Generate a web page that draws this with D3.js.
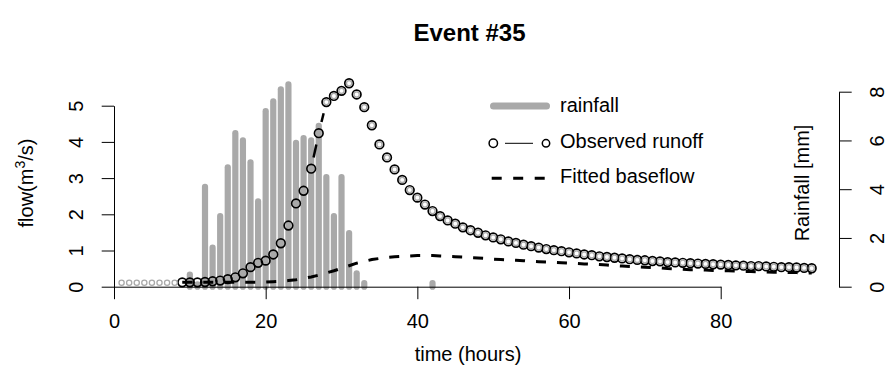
<!DOCTYPE html>
<html>
<head>
<meta charset="utf-8">
<script src="https://cdn.jsdelivr.net/npm/d3@7"></script>
<style>
body { margin: 0; background: white; }
svg { display: block; font-family: "Liberation Sans", Arial, Helvetica, sans-serif; }
</style>
</head>
<body>
<main></main>
<script>
// hourly rainfall (mm), right axis
const rainHours = [10, 11, 12, 13, 14, 15, 16, 17, 18, 19, 20, 21, 22, 23, 24, 25, 26, 27, 28, 29, 30, 31, 32, 33, 42]
const rainMm = [0.5, 0.1, 4.1, 1.6, 2.9, 4.9, 6.3, 6.0, 5.1, 3.5, 7.2, 7.6, 8.1, 8.3, 5.9, 6.1, 6.0, 6.6, 4.5, 2.9, 4.5, 2.2, 0.55, 0.15, 0.15]

// flow before the event starts (small grey circles)
const preHours = [1, 2, 3, 4, 5, 6, 7, 8]
const preFlow = [0.11, 0.11, 0.11, 0.11, 0.11, 0.11, 0.11, 0.11]

// observed runoff during the event, hours 9..92
const obsHours = [9, 10, 11, 12, 13, 14, 15, 16, 17, 18, 19, 20, 21, 22, 23, 24, 25, 26, 27, 28,
    29, 30, 31, 32, 33, 34, 35, 36, 37, 38, 39, 40, 41, 42, 43, 44, 45, 46, 47, 48,
    49, 50, 51, 52, 53, 54, 55, 56, 57, 58, 59, 60, 61, 62, 63, 64, 65, 66, 67, 68,
    69, 70, 71, 72, 73, 74, 75, 76, 77, 78, 79, 80, 81, 82, 83, 84, 85, 86, 87, 88,
    89, 90, 91, 92]
const obsFlow = [0.12, 0.12, 0.12, 0.13, 0.15, 0.17, 0.21, 0.26, 0.37, 0.54, 0.66, 0.72, 0.89, 1.20, 1.69, 2.30, 2.65, 3.26, 4.24, 5.10,
    5.27, 5.41, 5.62, 5.31, 4.96, 4.46, 3.93, 3.57, 3.24, 2.95, 2.67, 2.46, 2.27, 2.09, 1.95, 1.83, 1.74, 1.64, 1.56, 1.49,
    1.42, 1.36, 1.31, 1.25, 1.21, 1.16, 1.12, 1.08, 1.04, 1.01, 0.98, 0.95, 0.92, 0.89, 0.87, 0.84, 0.82, 0.80, 0.78, 0.76,
    0.74, 0.73, 0.71, 0.70, 0.68, 0.67, 0.66, 0.65, 0.64, 0.63, 0.62, 0.61, 0.60, 0.59, 0.58, 0.57, 0.57, 0.56, 0.55, 0.54,
    0.54, 0.53, 0.52, 0.51]
const baseflow = [0.12, 0.12, 0.12, 0.12, 0.12, 0.12, 0.12, 0.12, 0.12, 0.12, 0.12, 0.13, 0.14, 0.15, 0.17, 0.19, 0.23, 0.27, 0.32, 0.38,
    0.44, 0.51, 0.58, 0.65, 0.70, 0.75, 0.78, 0.81, 0.83, 0.84, 0.85, 0.86, 0.86, 0.86, 0.85, 0.84, 0.83, 0.82, 0.80, 0.79,
    0.78, 0.76, 0.75, 0.74, 0.73, 0.72, 0.70, 0.69, 0.68, 0.67, 0.66, 0.65, 0.64, 0.63, 0.62, 0.61, 0.60, 0.58, 0.57, 0.56,
    0.55, 0.54, 0.53, 0.52, 0.50, 0.49, 0.48, 0.47, 0.47, 0.46, 0.45, 0.44, 0.44, 0.43, 0.42, 0.42, 0.41, 0.41, 0.40, 0.40,
    0.39, 0.39, 0.38, 0.38]
const recessionStart = 28

const xTicks = [0, 20, 40, 60, 80]
const flowTicks = [0, 1, 2, 3, 4, 5]
const rainTicks = [0, 2, 4, 6, 8]

const svgWidth = 893
const svgHeight = 371
const barGrey = "#a9a9a9"

let svg = d3.select("main")
    .append("svg")
    .attr("width", svgWidth)
    .attr("height", svgHeight)

//scales
let xScale = d3.scaleLinear().domain([0, 80]).range([114, 720.7])
let yScale = d3.scaleLinear().domain([0, 5]).range([286.7, 105.7])
let rScale = d3.scaleLinear().domain([0, 8]).range([286.7, 91.7])

//title
svg.append("text")
    .attr("x", 469.5)
    .attr("y", 41)
    .attr("text-anchor", "middle")
    .style("font-size", "24px")
    .style("font-weight", "bold")
    .text("Event #35")

//rainfall bars
let rain = rainHours.map((h, i) => ({ h: h, v: rainMm[i] }))
svg.append("g").selectAll("line")
    .data(rain)
    .enter()
    .append("line")
    .attr("x1", d => xScale(d.h))
    .attr("x2", d => xScale(d.h))
    .attr("y1", rScale(0))
    .attr("y2", d => rScale(d.v))
    .attr("stroke", barGrey)
    .attr("stroke-width", 6.2)
    .attr("stroke-linecap", "round")

//fitted baseflow
let base = obsHours.map((h, i) => ({ h: h, v: baseflow[i] }))
svg.append("path")
    .datum(base)
    .attr("fill", "none")
    .attr("stroke", "black")
    .attr("stroke-width", 3)
    .attr("stroke-dasharray", "10,11")
    .attr("d", d3.line().x(d => xScale(d.h)).y(d => yScale(d.v)))

//observed runoff, points joined with gaps (type "b")
let obs = obsHours.map((h, i) => ({ h: h, v: obsFlow[i] }))
let gap = 11.5
let links = []
for (let i = 1; i < obs.length; i++) {
    let x1 = xScale(obs[i - 1].h), y1 = yScale(obs[i - 1].v)
    let x2 = xScale(obs[i].h), y2 = yScale(obs[i].v)
    let len = Math.hypot(x2 - x1, y2 - y1)
    if (len - 2 * gap > 1) {
        let ux = (x2 - x1) / len, uy = (y2 - y1) / len
        links.push([x1 + ux * gap, y1 + uy * gap, x2 - ux * gap, y2 - uy * gap])
    }
}
svg.append("g").selectAll("line")
    .data(links)
    .enter()
    .append("line")
    .attr("x1", d => d[0]).attr("y1", d => d[1])
    .attr("x2", d => d[2]).attr("y2", d => d[3])
    .attr("stroke", "black")
    .attr("stroke-width", 2.5)

svg.append("g").selectAll("circle")
    .data(obs)
    .enter()
    .append("circle")
    .attr("cx", d => xScale(d.h))
    .attr("cy", d => yScale(d.v))
    .attr("r", 4.3)
    .attr("fill", "none")
    .attr("stroke", "black")
    .attr("stroke-width", 1.7)

//small grey points: before the event and on the recession
let grey = preHours.map((h, i) => ({ h: h, v: preFlow[i] }))
    .concat(obs.filter(d => d.h >= recessionStart))
svg.append("g").selectAll("circle")
    .data(grey)
    .enter()
    .append("circle")
    .attr("cx", d => xScale(d.h))
    .attr("cy", d => yScale(d.v))
    .attr("r", 2.6)
    .attr("fill", "none")
    .attr("stroke", barGrey)
    .attr("stroke-width", 1.3)

//x axis
let xAxis = svg.append("g")
    .attr("transform", `translate(0, ${yScale(0)})`)
    .call(d3.axisBottom(xScale).tickValues(xTicks).tickFormat(d3.format("d")).tickSize(12.5).tickSizeOuter(0))
xAxis.select("path").attr("stroke", "black")
xAxis.selectAll("text")
    .attr("y", 41.5)
    .attr("dy", null)
    .attr("fill", "black")
    .style("font-size", "20px")
    .style("font-family", "inherit")

svg.append("text")
    .attr("x", 468)
    .attr("y", 361)
    .attr("text-anchor", "middle")
    .style("font-size", "20px")
    .text("time (hours)")

//left axis
let yAxis = svg.append("g")
    .attr("transform", `translate(${xScale(0)}, 0)`)
    .call(d3.axisLeft(yScale).tickValues(flowTicks).tickFormat(d3.format("d")).tickSize(12.3).tickSizeOuter(0))
yAxis.selectAll("text")
    .attr("x", null)
    .attr("dy", null)
    .attr("text-anchor", "middle")
    .attr("transform", "translate(-31, 0) rotate(-90)")
    .attr("fill", "black")
    .style("font-size", "20px")
    .style("font-family", "inherit")

let yTitle = svg.append("text")
    .attr("transform", "translate(33, 183) rotate(-90)")
    .attr("text-anchor", "middle")
    .style("font-size", "20px")
yTitle.append("tspan").text("flow(m")
yTitle.append("tspan").attr("dy", -8).style("font-size", "14px").text("3")
yTitle.append("tspan").attr("dy", 8).text("/s)")

//right axis
let rAxis = svg.append("g")
    .attr("transform", "translate(839, 0)")
    .call(d3.axisRight(rScale).tickValues(rainTicks).tickFormat(d3.format("d")).tickSize(12.7).tickSizeOuter(0))
rAxis.selectAll("text")
    .attr("x", null)
    .attr("dy", null)
    .attr("text-anchor", "middle")
    .attr("transform", "translate(45, 0) rotate(-90)")
    .attr("fill", "black")
    .style("font-size", "20px")
    .style("font-family", "inherit")

svg.append("text")
    .attr("transform", "translate(809, 183) rotate(-90)")
    .attr("text-anchor", "middle")
    .style("font-size", "20px")
    .text("Rainfall [mm]")

//legend
let legend = svg.append("g")
legend.append("line")
    .attr("x1", 493.5).attr("x2", 546.5)
    .attr("y1", 106).attr("y2", 106)
    .attr("stroke", barGrey)
    .attr("stroke-width", 7)
    .attr("stroke-linecap", "round")
legend.append("circle")
    .attr("cx", 493.3).attr("cy", 143.3).attr("r", 4.2)
    .attr("fill", "none").attr("stroke", "black").attr("stroke-width", 1.5)
legend.append("line")
    .attr("x1", 505).attr("x2", 533)
    .attr("y1", 143.3).attr("y2", 143.3)
    .attr("stroke", "black").attr("stroke-width", 1)
legend.append("circle")
    .attr("cx", 546).attr("cy", 143.3).attr("r", 3.7)
    .attr("fill", "none").attr("stroke", "black").attr("stroke-width", 1.5)
legend.append("line")
    .attr("x1", 491.7).attr("x2", 545.5)
    .attr("y1", 178.3).attr("y2", 178.3)
    .attr("stroke", "black")
    .attr("stroke-width", 3)
    .attr("stroke-dasharray", "10,11.5")

let legendLabels = ["rainfall", "Observed runoff", "Fitted baseflow"]
let legendY = [112, 148, 183]
legend.selectAll("text.lab")
    .data(legendLabels)
    .enter()
    .append("text")
    .attr("x", 560)
    .attr("y", (d, i) => legendY[i])
    .style("font-size", "20px")
    .text(d => d)
</script>
</body>
</html>
